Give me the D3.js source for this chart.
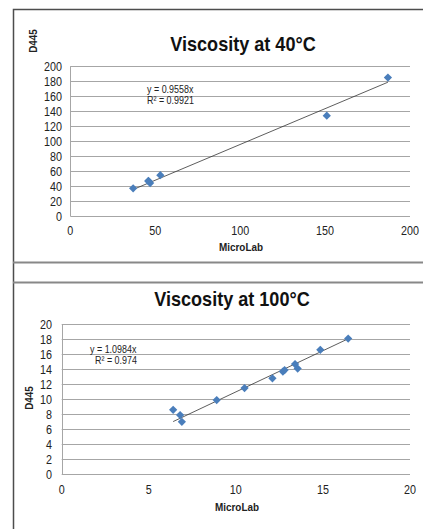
<!DOCTYPE html>
<html>
<head>
<meta charset="utf-8">
<script src="https://cdn.jsdelivr.net/npm/d3@7"></script>
<style>
  body { margin: 0; background: #fff; }
  svg { display: block; }
</style>
</head>
<body>
<div id="chart"></div>
<script>
// Viscosity comparison, D445 vs MicroLab

const micro40 = [37, 46, 47, 46, 53, 151, 187];
const d445_40 = [37, 46.5, 44, 47, 54.5, 134, 185];
const slope40 = 0.9558;
const eq40 = ['y = 0.9558x', 'R² = 0.9921'];
const ticks40x = [0, 50, 100, 150, 200];
const ticks40y = [0, 20, 40, 60, 80, 100, 120, 140, 160, 180, 200];

const micro100 = [6.4, 6.8, 6.9, 8.9, 10.5, 12.1, 12.7, 12.8, 13.4, 13.55, 14.85, 16.45];
const d445_100 = [8.6, 7.9, 7.0, 9.9, 11.5, 12.8, 13.7, 13.9, 14.7, 14.1, 16.6, 18.1];
const slope100 = 1.0984;
const eq100 = ['y = 1.0984x', 'R² = 0.974'];
const ticks100x = [0, 5, 10, 15, 20];
const ticks100y = [0, 2, 4, 6, 8, 10, 12, 14, 16, 18, 20];

const width = 423, height = 529;
const font = '"Liberation Sans", Arial, sans-serif';

const svg = d3.select('#chart').append('svg')
  .attr('width', width)
  .attr('height', height);

// squeeze text a little, the original uses a narrow face
function condense(sel, k) {
  sel.each(function() {
    const w = this.getComputedTextLength();
    d3.select(this)
      .attr('textLength', w * k)
      .attr('lengthAdjust', 'spacingAndGlyphs');
  });
}

// frame lines
svg.append('path')
  .attr('d', `M13.5,${height} V9.5 H${width}`)
  .attr('fill', 'none')
  .attr('stroke', '#4d4d4d')
  .attr('stroke-width', 1.5);
[262.5, 282.5].forEach(y => {
  svg.append('line')
    .attr('x1', 13).attr('x2', width)
    .attr('y1', y).attr('y2', y)
    .attr('stroke', '#888')
    .attr('stroke-width', 2);
});

function drawChart(cfg) {
  const x = d3.scaleLinear().domain(cfg.xDomain).range(cfg.xRange);
  const y = d3.scaleLinear().domain(cfg.yDomain).range(cfg.yRange);
  const g = svg.append('g');

  // gridlines
  g.append('g')
    .selectAll('line')
    .data(cfg.yTicks)
    .join('line')
    .attr('x1', x.range()[0]).attr('x2', x.range()[1])
    .attr('y1', d => Math.round(y(d)) + 0.5).attr('y2', d => Math.round(y(d)) + 0.5)
    .attr('stroke', '#a6a6a6')
    .attr('stroke-width', 1);

  // y axis line
  g.append('line')
    .attr('x1', Math.round(x.range()[0]) + 0.5).attr('x2', Math.round(x.range()[0]) + 0.5)
    .attr('y1', y.range()[0]).attr('y2', y.range()[1])
    .attr('stroke', '#a6a6a6');

  // y tick labels
  g.append('g')
    .selectAll('text')
    .data(cfg.yTicks)
    .join('text')
    .attr('x', cfg.yLabelX)
    .attr('y', d => y(d) + 4.5)
    .attr('text-anchor', 'end')
    .style('font', `12.5px ${font}`)
    .attr('fill', '#222')
    .text(d => d)
    .call(condense, 0.86);

  // x tick labels
  g.append('g')
    .selectAll('text')
    .data(cfg.xTicks)
    .join('text')
    .attr('x', d => x(d))
    .attr('y', cfg.xLabelY)
    .attr('text-anchor', 'middle')
    .style('font', `12.5px ${font}`)
    .attr('fill', '#222')
    .text(d => d)
    .call(condense, 0.86);

  // axis titles
  g.append('text')
    .attr('x', cfg.xTitle[0]).attr('y', cfg.xTitle[1])
    .attr('text-anchor', 'middle')
    .style('font', `bold 11.5px ${font}`)
    .attr('fill', '#222')
    .text('MicroLab')
    .call(condense, 0.86);

  g.append('text')
    .attr('transform', `translate(${cfg.yTitle[0]},${cfg.yTitle[1]}) rotate(-90)`)
    .attr('text-anchor', 'middle')
    .style('font', `bold 11.5px ${font}`)
    .attr('fill', '#222')
    .text('D445')
    .call(condense, 0.86);

  // chart title
  g.append('text')
    .attr('x', cfg.title[0]).attr('y', cfg.title[1])
    .attr('text-anchor', 'middle')
    .style('font', `bold 21px ${font}`)
    .attr('fill', '#111')
    .text(cfg.titleText)
    .call(condense, 0.86);

  // trendline through origin
  const xs = d3.extent(cfg.xs);
  g.append('line')
    .attr('x1', x(xs[0])).attr('y1', y(xs[0] * cfg.slope))
    .attr('x2', x(xs[1])).attr('y2', y(xs[1] * cfg.slope))
    .attr('stroke', '#333')
    .attr('stroke-width', 0.8);

  // points
  const diamond = d3.symbol().type(d3.symbolSquare).size(34);
  g.append('g')
    .selectAll('path')
    .data(cfg.xs.map((v, i) => [v, cfg.ys[i]]))
    .join('path')
    .attr('d', diamond)
    .attr('transform', d => `translate(${x(d[0])},${y(d[1])}) rotate(45)`)
    .attr('fill', '#4a7ebb');

  // equation
  g.append('g')
    .selectAll('text')
    .data(cfg.eq)
    .join('text')
    .attr('x', (d, i) => cfg.eqPos[i][0])
    .attr('y', (d, i) => cfg.eqPos[i][1])
    .style('font', `10.5px ${font}`)
    .attr('fill', '#222')
    .text(d => d)
    .call(condense, 0.85);
}

drawChart({
  xs: micro40, ys: d445_40, slope: slope40, eq: eq40,
  xTicks: ticks40x, yTicks: ticks40y,
  xDomain: [0, 200], yDomain: [0, 200],
  xRange: [70.3, 410], yRange: [216, 66.3],
  yLabelX: 62, xLabelY: 235,
  xTitle: [241, 251], yTitle: [37, 41],
  title: [243, 51], titleText: 'Viscosity at 40°C',
  eqPos: [[147, 93], [147, 104]]
});

drawChart({
  xs: micro100, ys: d445_100, slope: slope100, eq: eq100,
  xTicks: ticks100x, yTicks: ticks100y,
  xDomain: [0, 20], yDomain: [0, 20],
  xRange: [61.7, 410], yRange: [474.3, 324.3],
  yLabelX: 52, xLabelY: 494,
  xTitle: [237, 511], yTitle: [33, 398],
  title: [232, 306], titleText: 'Viscosity at 100°C',
  eqPos: [[90, 353], [95, 364]]
});
</script>
</body>
</html>
